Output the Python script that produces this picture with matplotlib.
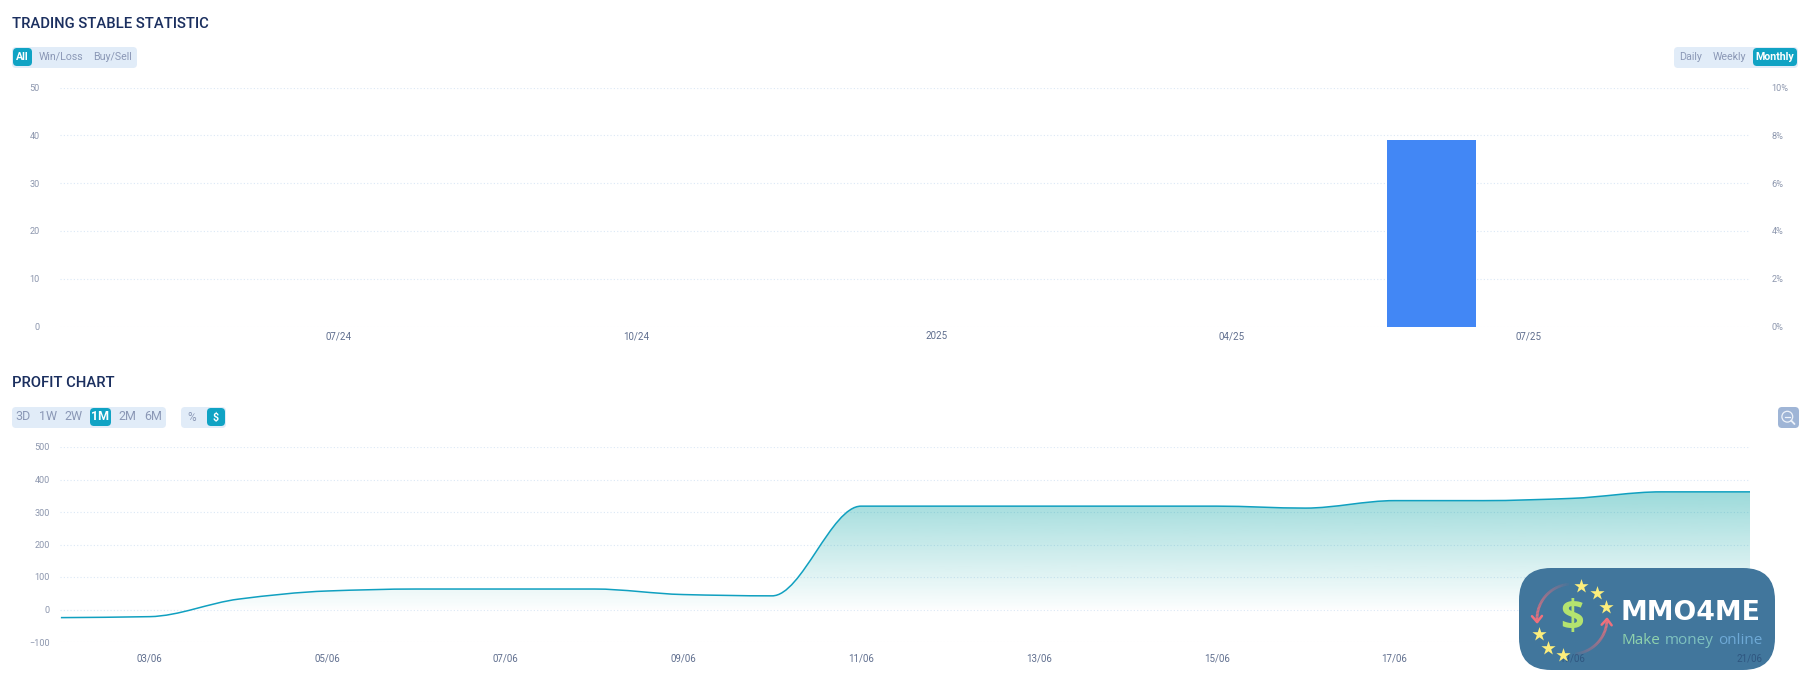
import numpy as np
import matplotlib
matplotlib.use('Agg')
import matplotlib.pyplot as plt
from matplotlib.patches import FancyBboxPatch, PathPatch, Circle
from matplotlib.path import Path
from matplotlib.collections import LineCollection

plt.rcParams['font.family'] = ['Roboto', 'DejaVu Sans']

W, H = 1808, 683

# monthly chart
month_pos = [11.02]
month_values = [39.1]
month_ticks = [0, 3, 6.03, 9, 12]
month_tick_labels = ['07/24', '10/24', '2025', '04/25', '07/25']
left_ticks = [0, 10, 20, 30, 40, 50]
right_ticks = [0, 2, 4, 6, 8, 10]
right_tick_labels = ['0%', '2%', '4%', '6%', '8%', '10%']

# profit chart
days = list(range(20))
profit = [-25, -22, 32, 57, 63, 63, 63, 46, 42, 318, 318, 318, 318, 318, 312, 335, 335, 342, 362, 362]
day_ticks = [1, 3, 5, 7, 9, 11, 13, 15, 17, 19]
day_tick_labels = ['03/06', '05/06', '07/06', '09/06', '11/06', '13/06', '15/06', '17/06', '19/06', '21/06']
profit_ticks = [-100, 0, 100, 200, 300, 400, 500]

NAVY = '#1b2f5f'
GRID = '#dbe8f6'
LABEL = '#8d97ae'
XLABEL = '#5f6e8e'
TEAL = '#10a3c4'
PANEL = '#e1ecf8'
MUTED = '#8b98b6'


def px_axes(x0, x1, ytop, ybottom):
    return fig.add_axes([x0 / W, 1 - ybottom / H, (x1 - x0) / W, (ybottom - ytop) / H])


def style_axes(ax):
    ax.set_facecolor('none')
    for s in ax.spines.values():
        s.set_visible(False)
    ax.grid(axis='y', color=GRID, linestyle=(0, (1, 2)), linewidth=0.8)
    ax.set_axisbelow(True)


def smooth_path(xs, ys):
    # monotone cubic through the points, as bezier segments
    xs = np.array(xs, dtype=float)
    ys = np.array(ys, dtype=float)
    h = np.diff(xs)
    sec = np.diff(ys) / h
    d = np.zeros(len(xs))
    d[0] = sec[0]
    d[-1] = sec[-1]
    for i in range(1, len(xs) - 1):
        if sec[i - 1] * sec[i] > 0:
            d[i] = 2 * sec[i - 1] * sec[i] / (sec[i - 1] + sec[i])
    verts = [(xs[0], ys[0])]
    codes = [Path.MOVETO]
    for i in range(len(xs) - 1):
        verts.append((xs[i] + h[i] / 3, ys[i] + d[i] * h[i] / 3))
        verts.append((xs[i + 1] - h[i] / 3, ys[i + 1] - d[i + 1] * h[i] / 3))
        verts.append((xs[i + 1], ys[i + 1]))
        codes += [Path.CURVE4, Path.CURVE4, Path.CURVE4]
    return verts, codes


fig = plt.figure(figsize=(W / 100, H / 100), dpi=100, facecolor='white')

# ---- top chart
ax1 = px_axes(60, 1750, 87.5, 326.5)
style_axes(ax1)
ax1.bar(month_pos, month_values, width=0.89, color='#4287f5', zorder=3)
ax1.set_xlim(-2.807, 14.23)
ax1.set_ylim(0, 50)
ax1.set_yticks(left_ticks)
ax1.set_xticks(month_ticks, month_tick_labels)
ax1.tick_params(axis='y', length=0, pad=14.5, labelsize=6.6, labelcolor=LABEL)
ax1.tick_params(axis='x', length=0, pad=9, labelsize=7, labelcolor=XLABEL)
for t in ax1.get_xticklabels():
    t.set_verticalalignment('baseline')

ax1r = ax1.twinx()
style_axes(ax1r)
ax1r.grid(False)
ax1r.set_ylim(0, 10)
ax1r.set_yticks(right_ticks, right_tick_labels)
ax1r.tick_params(axis='y', length=0, pad=15.5, labelsize=6.6, labelcolor=LABEL)

# ---- bottom chart
ax2 = px_axes(60, 1750, 447, 642)
style_axes(ax2)
ax2.set_xlim(days[0] - 0.01, days[-1])
ax2.set_ylim(-100, 500)
ax2.set_yticks(profit_ticks)
ax2.set_xticks(day_ticks, day_tick_labels)
ax2.tick_params(axis='y', length=0, pad=7.2, labelsize=6.6, labelcolor=LABEL)
ax2.tick_params(axis='x', length=0, pad=8.2, labelsize=7, labelcolor=XLABEL)

verts, codes = smooth_path(days, profit)
area = PathPatch(Path(verts + [(days[-1], 0), (days[0], 0), verts[0]],
                      codes + [Path.LINETO, Path.LINETO, Path.CLOSEPOLY]),
                 facecolor='none', edgecolor='none')
ax2.add_patch(area)
grad = np.zeros((256, 1, 4))
grad[:, 0, 0] = 0x14 / 255
grad[:, 0, 1] = 0xa8 / 255
grad[:, 0, 2] = 0xa8 / 255
grad[:, 0, 3] = np.linspace(0.42, 0.0, 256)
img = ax2.imshow(grad, extent=[days[0], days[-1], -10, max(profit)], aspect='auto', origin='upper', zorder=1.5)
img.set_clip_path(area)
ax2.add_patch(PathPatch(Path(verts, codes), facecolor='none', edgecolor='#10a0c0', linewidth=1.1, zorder=3))
ax2.set_xlim(days[0] - 0.01, days[-1])
ax2.set_ylim(-100, 500)

# ---- overlay in pixel coordinates
ov = fig.add_axes([0, 0, 1, 1], zorder=10)
ov.set_xlim(0, W)
ov.set_ylim(H, 0)
ov.axis('off')
ov.patch.set_alpha(0)


def box(x0, y0, x1, y1, color, r=4, axes=ov, **kw):
    p = FancyBboxPatch((x0, y0), x1 - x0, y1 - y0, boxstyle='round,pad=0,rounding_size=%s' % r,
                       facecolor=color, edgecolor='none', **kw)
    axes.add_patch(p)
    return p


def label(x, y, s, active=False, size=7.7):
    ov.text(x, y, s, ha='center', va='center', fontsize=size,
            color='white' if active else MUTED, fontweight='bold' if active else 'normal')


ov.text(12, 23.5, 'TRADING STABLE STATISTIC', fontsize=10.6, color=NAVY, fontweight=500, va='center')
ov.text(12, 383, 'PROFIT CHART', fontsize=10.6, color=NAVY, fontweight=500, va='center')

box(12, 47, 137, 68, PANEL)
box(13, 48, 32, 66, TEAL)
label(22.5, 56.5, 'All', True)
label(61, 56.5, 'Win/Loss')
label(113, 56.5, 'Buy/Sell')

box(1674, 47, 1798, 68, PANEL)
box(1753, 48, 1797, 66, TEAL)
label(1691, 56.5, 'Daily')
label(1729, 56.5, 'Weekly')
label(1775, 56.5, 'Monthly', True)

box(12, 407, 166, 428, PANEL)
box(90, 408, 111, 426, TEAL)
for cx, s in zip([23, 48, 74, 100.5, 127, 153.5], ['3D', '1W', '2W', '1M', '2M', '6M']):
    label(cx, 417, s, s == '1M', 9)
box(181, 407, 226, 428, PANEL)
box(207, 408, 225, 426, TEAL)
label(192, 417.5, '%', size=8.5)
label(216, 417.5, '$', True, 7.6)

# zoom button
box(1778, 407, 1799, 428, '#9fb5d6')
ov.add_patch(Circle((1787.3, 416.7), 5.4, facecolor='none', edgecolor='#eef3fa', linewidth=0.9))
ov.plot([1784.8, 1789.8], [416.7, 416.7], color='#eef3fa', linewidth=0.9)
ov.plot([1791.2, 1794.5], [420.6, 424], color='#eef3fa', linewidth=1.3, solid_capstyle='round')

# ---- watermark, x tick labels stay above its plate
box(1519, 568, 1775, 670, '#41769c', r=32, axes=ax2, transform=ov.transData, clip_on=False, zorder=5)
ax2.xaxis.set_zorder(6)
for t in ax2.get_xticklabels()[-2:]:
    t.set_color('#2f5680')

ov.scatter([1581, 1597, 1606, 1539, 1548, 1563], [586, 593, 607, 634, 648, 655],
           marker='*', s=115, color='#fdee7c', linewidths=0, zorder=3)
ov.text(1572, 618, '$', fontsize=30, fontweight='bold', color='#b4e36f', ha='center', va='center',
        fontfamily=['Open Sans', 'DejaVu Sans'])


def fading_arc(a0, a1):
    # arc round the dollar sign, fading towards its tail
    t = np.radians(np.linspace(a0, a1, 40))
    x = 1572 + 35 * np.cos(t)
    y = 619 - 35 * np.sin(t)
    pts = np.column_stack([x, y])
    segs = np.stack([pts[:-1], pts[1:]], axis=1)
    cols = np.zeros((39, 4))
    cols[:, :3] = matplotlib.colors.to_rgb('#f0707c')
    cols[:, 3] = np.linspace(0.05, 1, 39)
    ov.add_collection(LineCollection(segs, colors=cols, linewidths=2, capstyle='butt'))
    tip = pts[-1]
    back = pts[-4]
    u = (tip - back) / np.hypot(*(tip - back))
    n = np.array([-u[1], u[0]])
    for sgn in (-1, 1):
        p = tip - 6 * u + sgn * 5 * n
        ov.plot([tip[0], p[0]], [tip[1], p[1]], color='#f0707c', linewidth=1.8, solid_capstyle='round')


fading_arc(95, 185)
fading_arc(275, 360)

ov.text(1621, 613, 'MMO4ME', fontsize=19.3, fontweight='bold', color='white', va='center',
        fontfamily=['DejaVu Sans'])
for x, s, c in [(1622, 'Make', '#8fd2ad'), (1665, 'money', '#7ec1bf'), (1718, 'online', '#6ea9d6')]:
    ov.text(x, 641, s, fontsize=11, color=c, va='center', fontfamily=['Open Sans', 'DejaVu Sans'])

fig.savefig('out.png', dpi=100)
